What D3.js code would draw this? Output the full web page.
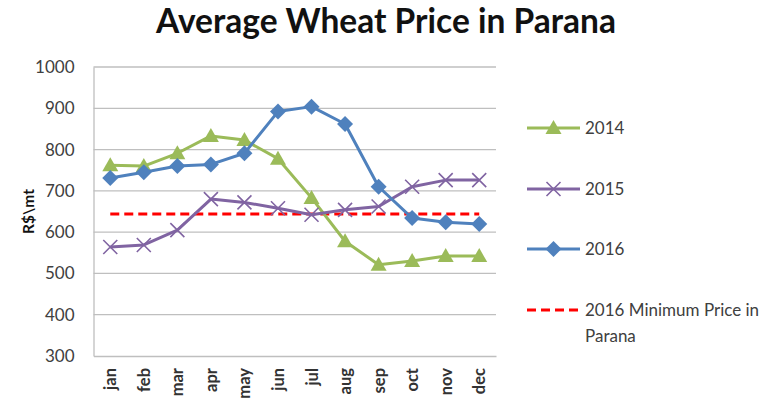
<!DOCTYPE html>
<html><head><meta charset="utf-8">
<script src="https://cdn.jsdelivr.net/npm/d3@7"></script>
<style>body{margin:0;background:#fff;} svg{display:block;}</style>
</head><body>
<svg id="chart" width="777" height="402"></svg>
<script>
const months = ["jan","feb","mar","apr","may","jun","jul","aug","sep","oct","nov","dec"];
const price2014 = [762, 760, 791, 833, 823, 778, 683, 578, 521, 530, 542, 542];
const price2015 = [564, 569, 605, 680, 672, 658, 642, 654, 662, 710, 726, 726];
const price2016 = [731, 745, 760, 764, 791, 892, 904, 862, 710, 634, 624, 620];
const minPrice2016 = 644;
const yTicks = [300, 400, 500, 600, 700, 800, 900, 1000];

const svg = d3.select("#chart");
const font = "Lato, 'Open Sans', sans-serif";
const margin = {left: 93.5, right: 281, top: 67, bottom: 46};
const W = 777, H = 402;

const x = d3.scaleBand().domain(months).range([margin.left, W - margin.right]);
const y = d3.scaleLinear().domain([300, 1000]).range([H - margin.bottom, margin.top]);

// title
svg.append("text").attr("x", 386).attr("y", 33).attr("text-anchor", "middle")
  .attr("font-family", font).attr("font-weight", "bold").attr("font-size", 33.5)
  .attr("fill", "#111").text("Average Wheat Price in Parana");

// gridlines
svg.append("g").selectAll("line").data(yTicks.filter(d => d > 300)).join("line")
  .attr("x1", margin.left).attr("x2", W - margin.right)
  .attr("y1", d => y(d)).attr("y2", d => y(d))
  .attr("stroke", "#BFBFBF").attr("stroke-width", 1.3);

// y axis
const yAxis = svg.append("g").attr("transform", `translate(${margin.left},0)`)
  .call(d3.axisLeft(y).tickValues(yTicks).tickFormat(d3.format("d")).tickSize(0).tickPadding(19));
yAxis.select(".domain").attr("stroke", "#BFBFBF").attr("stroke-width", 1.3);
yAxis.selectAll("text").attr("font-family", font).attr("font-size", 17).attr("fill", "#404040");

// x axis
const xAxis = svg.append("g").attr("transform", `translate(0,${y(300)})`)
  .call(d3.axisBottom(x).tickSize(0));
xAxis.select(".domain").attr("stroke", "#BFBFBF").attr("stroke-width", 1.3);
xAxis.selectAll("text")
  .attr("font-family", font).attr("font-size", 16.5).attr("fill", "#333").attr("font-weight", "bold")
  .attr("text-anchor", "end").attr("dy", null)
  .attr("transform", "translate(6,12) rotate(-90)")
  .attr("x", 0).attr("y", 0);

// y label
svg.append("text").attr("transform", `translate(34,${(y(300)+y(1000))/2}) rotate(-90)`)
  .attr("text-anchor", "middle").attr("font-family", font).attr("font-weight", "bold")
  .attr("font-size", 15.5).attr("fill", "#111").text("R$\\mt");

const cx = d => x(d) + x.bandwidth() / 2;
const line = d3.line().x((d, i) => cx(months[i])).y(d => y(d));

const series = [
  {name: "2014", values: price2014, color: "#9BBB59", marker: "triangle"},
  {name: "2015", values: price2015, color: "#8064A2", marker: "cross"},
  {name: "2016", values: price2016, color: "#4F81BD", marker: "diamond"}
];

function drawMarker(g, type, color, px, py) {
  if (type === "triangle") {
    g.append("path").attr("d", `M${px},${py-8}L${px+8},${py+6}L${px-8},${py+6}Z`).attr("fill", color);
  } else if (type === "diamond") {
    g.append("path").attr("d", `M${px},${py-8}L${px+8},${py}L${px},${py+8}L${px-8},${py}Z`).attr("fill", color);
  } else {
    g.append("path").attr("d", `M${px-7},${py-7}L${px+7},${py+7}M${px+7},${py-7}L${px-7},${py+7}`)
      .attr("stroke", color).attr("stroke-width", 1.6).attr("fill", "none");
  }
}

// red dashed line
svg.append("line").attr("x1", cx("jan")).attr("x2", cx("dec"))
  .attr("y1", y(minPrice2016)).attr("y2", y(minPrice2016))
  .attr("stroke", "#FF0000").attr("stroke-width", 3).attr("stroke-dasharray", "9,5");

series.forEach(s => {
  const g = svg.append("g");
  g.append("path").datum(s.values).attr("d", line).attr("fill", "none")
    .attr("stroke", s.color).attr("stroke-width", 3).attr("stroke-linejoin", "round");
  s.values.forEach((v, i) => drawMarker(g, s.marker, s.color, cx(months[i]), y(v)));
});

// legend
const legendY = [128, 189, 249, 310];
const lx1 = 527, lx2 = 580;
series.forEach((s, i) => {
  const g = svg.append("g");
  g.append("line").attr("x1", lx1).attr("x2", lx2).attr("y1", legendY[i]).attr("y2", legendY[i])
    .attr("stroke", s.color).attr("stroke-width", 3);
  drawMarker(g, s.marker, s.color, (lx1 + lx2) / 2, legendY[i]);
  g.append("text").attr("x", 585).attr("y", legendY[i] + 6).attr("font-family", font)
    .attr("font-size", 17).attr("fill", "#404040").text(s.name);
});
svg.append("line").attr("x1", lx1).attr("x2", lx2).attr("y1", legendY[3]).attr("y2", legendY[3])
  .attr("stroke", "#FF0000").attr("stroke-width", 3).attr("stroke-dasharray", "9,5");
const lt = svg.append("text").attr("x", 585).attr("y", legendY[3] + 6).attr("font-family", font)
  .attr("font-size", 17).attr("fill", "#404040");
lt.append("tspan").attr("x", 585).text("2016 Minimum Price in");
lt.append("tspan").attr("x", 585).attr("dy", 26).text("Parana");
</script>
</body></html>
